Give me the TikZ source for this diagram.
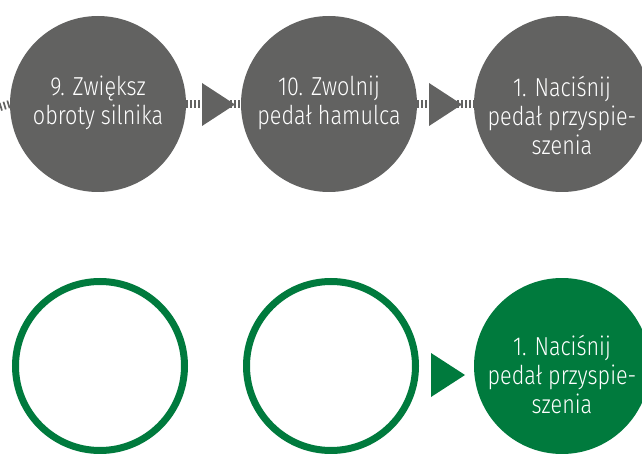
\documentclass[tikz,border=0pt]{standalone}
\usepackage{fontspec}
\setmainfont{Fira Sans}[UprightFont={* Light}, FakeStretch=0.83]

\definecolor{stepgrey}{RGB}{98,98,97}
\definecolor{stepgreen}{RGB}{0,122,61}

\tikzset{
  greydisc/.style={circle, fill=stepgrey, minimum size=176pt, inner sep=0pt},
  greendisc/.style={circle, fill=stepgreen, minimum size=176pt, inner sep=0pt},
  greenring/.style={circle, draw=stepgreen, line width=7pt, minimum size=169pt, inner sep=0pt},
  steptext/.style={anchor=north, text=white, align=center, inner sep=0pt,
    font=\fontsize{26}{29}\selectfont},
  ticks/.style={stepgrey, line width=8pt, dash pattern=on 1.7pt off 2.3pt}
}

\begin{document}
\begin{tikzpicture}[x=1pt,y=-1pt]

	\useasboundingbox (0,0) rectangle (642,454);

	% upper row

	\node[greydisc] (c1) at (98,104) {};
	\node[greydisc] (c2) at (329,104) {};
	\node[greydisc] (c3) at (562,104) {};

	\coordinate (in) at (0,107);
	\draw[ticks] (in) -- (c1.west);
	\draw[ticks] (c1.east) -- (c2.west);
	\draw[ticks] (c2.east) -- (c3.west);

	% pointers

	\fill[stepgrey] (202,83) -- (235,104.5) -- (202,126) -- cycle;
	\fill[stepgrey] (429,83) -- (462,104.5) -- (429,126) -- cycle;

	\node[steptext] (l1) at (98,76) {9. Zwiększ\\obroty silnika};
	\node[steptext] (l2) at (329,76) {10. Zwolnij\\pedał hamulca};
	\node[steptext] (l3) at (562,76) {1. Naciśnij\\pedał przyspie-\\szenia};

	% lower row

	\node[greenring] (g1) at (100,366) {};
	\node[greenring] (g2) at (331,366) {};
	\node[greendisc] (g3) at (562,366) {};

	\fill[stepgreen] (431,353) -- (465,375) -- (431,397) -- cycle;

	\node[steptext] (l4) at (562,335) {1. Naciśnij\\pedał przyspie-\\szenia};

\end{tikzpicture}
\end{document}
